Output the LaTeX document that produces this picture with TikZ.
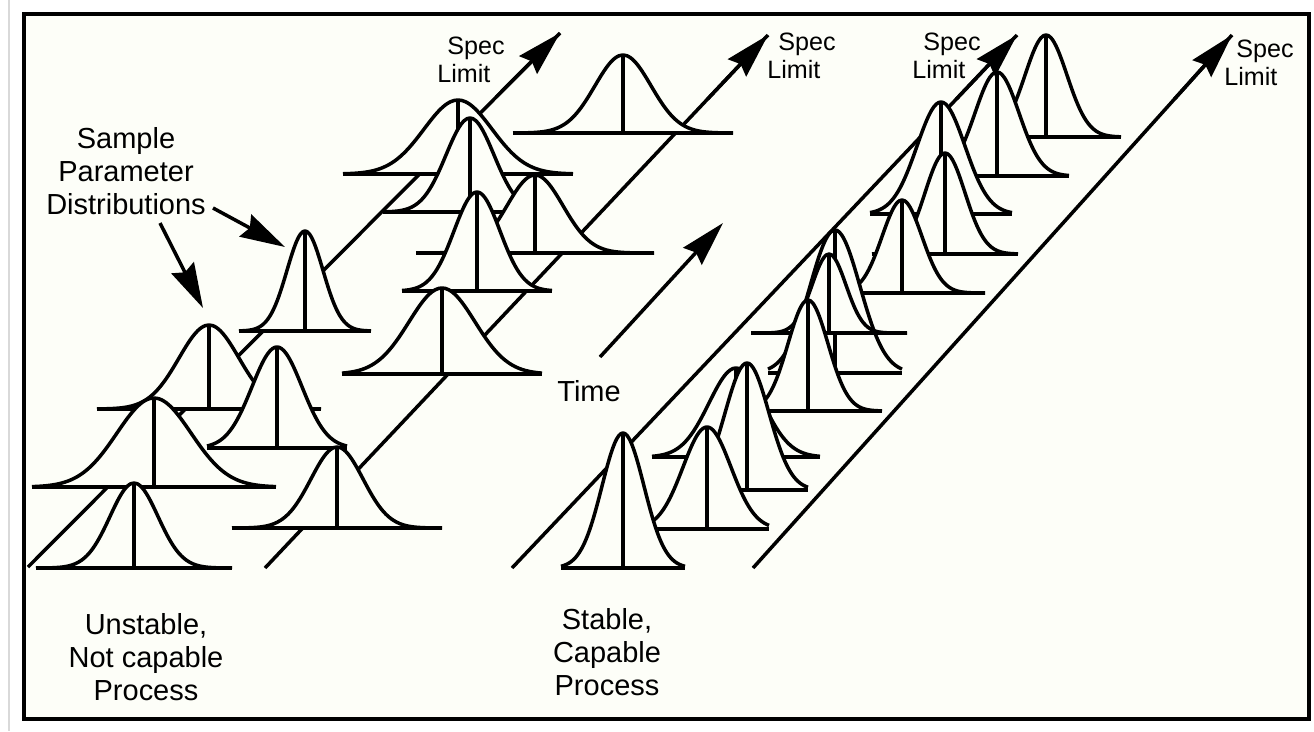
\documentclass[tikz,border=0pt]{standalone}
\usepackage{fontspec}
\setmainfont{Liberation Sans}
\usetikzlibrary{arrows.meta,calc}
\definecolor{papercol}{RGB}{253,254,248}

\begin{document}
\begin{tikzpicture}[
        x=0.02cm, y=-0.02cm,
        ink/.style={line width=2pt, line join=round},
        limitline/.style={line width=2pt},
        bigtip/.style={line width=2pt, -{Stealth[length=9mm, width=5mm, inset=1mm]}},
        txt/.style={inner sep=0pt, align=center, font=\fontsize{16.5}{18.8}\selectfont},
        speclbl/.style={inner sep=0pt, align=left, anchor=north west, font=\fontsize{14.3}{15.9}\selectfont},
        pics/bell/.style n args={3}{code={
            \fill[papercol] (-#3,0) -- plot[domain=-#3:#3, samples=61, smooth] (\x,{-#1*exp(-0.5*(\x/#2)*(\x/#2))}) -- cycle;
            \draw[ink] plot[domain=-#3:#3, samples=61, smooth] (\x,{-#1*exp(-0.5*(\x/#2)*(\x/#2))});
            \draw[ink] (-#3,0) -- (#3,0);
            \draw[ink] (0,0) -- (0,-#1);
        }}
    ]

    % Page and frame
    \useasboundingbox (0,0) rectangle (1314,731);
    \fill[white] (0,0) rectangle (1314,731);
    \draw[gray!30, line width=0.8pt] (9,0) -- (9,731);
    \fill[papercol] (24,14) rectangle (1309,719);

    % Spec limit lines (behind the distributions)
    \coordinate (l1low) at (28,567);   \coordinate (l1top) at (560,33);
    \coordinate (l2low) at (265,568);  \coordinate (l2top) at (768,35);
    \coordinate (r1low) at (512,568);  \coordinate (r1top) at (1017,35);
    \coordinate (r2low) at (753,568);  \coordinate (r2top) at (1232,35);
    \draw[limitline] (l1low) -- (l1top);
    \draw[limitline] (l2low) -- (l2top);
    \draw[limitline] (r1low) -- (r1top);
    \draw[limitline] (r2low) -- (r2top);

    % Unstable, not capable process (back to front)
    \pic at (623,133) {bell={78}{28}{110}};
    \pic at (458,174) {bell={74}{34}{115}};
    \pic at (470,212) {bell={94}{24}{87}};
    \pic at (535,253) {bell={78}{28}{119}};
    \pic at (477,291) {bell={99}{23}{75}};
    \pic at (305,331) {bell={100}{18}{66}};
    \pic at (442,374) {bell={86}{33}{100}};
    \pic at (209,409) {bell={84}{30}{112}};
    \pic at (277,448) {bell={101}{25}{70}};
    \pic at (154,487) {bell={89}{37}{122}};
    \pic at (337,528) {bell={81}{26}{105}};
    \pic at (134,568) {bell={85}{24}{98}};

    % Stable, capable process (back to front)
    \pic at (1046,137) {bell={102}{21}{75}};
    \pic at (997,176) {bell={104}{22}{72}};
    \pic at (941,214) {bell={112}{24}{71}};
    \pic at (945,254) {bell={101}{20}{73}};
    \pic at (902,293) {bell={93}{20}{83}};
    \pic at (835,373) {bell={143}{25}{67}};
    \pic at (829,333) {bell={79}{17}{78}};
    \pic at (808,411) {bell={111}{20}{74}};
    \pic at (736,457) {bell={89}{27}{84}};
    \pic at (747,490) {bell={127}{22}{61}};
    \pic at (707,529) {bell={102}{24}{62}};
    \pic at (623,568) {bell={135}{21}{62}};

    % Arrow tips on top
    \draw[bigtip] ($(l1top)!0.12!(l1low)$) -- (l1top);
    \draw[bigtip] ($(l2top)!0.12!(l2low)$) -- (l2top);
    \draw[bigtip] ($(r1top)!0.12!(r1low)$) -- (r1top);
    \draw[bigtip] ($(r2top)!0.12!(r2low)$) -- (r2top);

    % Time arrow
    \coordinate (timelow) at (600,357);
    \coordinate (timetop) at (723,223);
    \draw[bigtip] (timelow) -- (timetop);

    % Labels
    \node[speclbl] (spec1) at (437,37) {\hspace*{0.2cm}Spec\\Limit};
    \node[speclbl] (spec2) at (767,33) {\hspace*{0.22cm}Spec\\Limit};
    \node[speclbl] (spec3) at (912,33) {\hspace*{0.22cm}Spec\\Limit};
    \node[speclbl] (spec4) at (1224,40) {\hspace*{0.24cm}Spec\\Limit};
    \node[txt, anchor=north] (sampletxt) at (126,127) {Sample\\Parameter\\Distributions};
    \node[txt, anchor=north west] (timetxt) at (557,380) {Time};
    \node[txt, anchor=north] (unstabletxt) at (146,613) {Unstable,\\Not capable\\Process};
    \node[txt, anchor=north] (stabletxt) at (607,608) {Stable,\\Capable\\Process};

    % Pointers to sample distributions
    \coordinate (ptr1) at (160,223);  \coordinate (ptr1end) at (203,308);
    \coordinate (ptr2) at (213,208);  \coordinate (ptr2end) at (285,247);
    \draw[bigtip] (ptr1) -- (ptr1end);
    \draw[bigtip] (ptr2) -- (ptr2end);

    \draw[line width=2.6pt] (24,14) rectangle (1309,719);

\end{tikzpicture}
\end{document}
